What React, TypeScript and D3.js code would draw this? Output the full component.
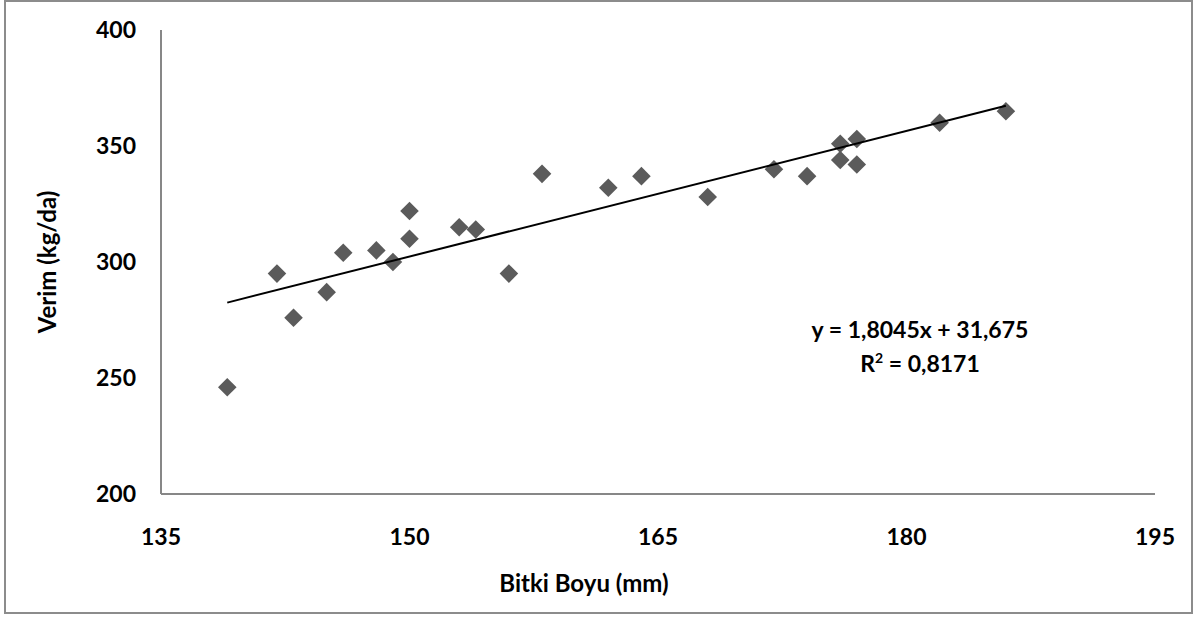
import React from "react";
import * as d3 from "d3";

const bitkiBoyu: number[] = [139, 142, 143, 145, 146, 148, 149, 150, 150, 153, 154, 156, 158, 162, 164, 168, 172, 174, 176, 176, 177, 177, 182, 186];
const verim: number[] = [246, 295, 276, 287, 304, 305, 300, 310, 322, 315, 314, 295, 338, 332, 337, 328, 340, 337, 351, 344, 353, 342, 360, 365];
const xTicks: number[] = [135, 150, 165, 180, 195];
const yTicks: number[] = [200, 250, 300, 350, 400];
const slope = 1.8045;
const intercept = 31.675;
const eqLine1 = "y = 1,8045x + 31,675";
const eqR2 = "0,8171";
const xTitle = "Bitki Boyu (mm)";
const yTitle = "Verim (kg/da)";

const W = 1196;
const H = 617;
const FONT = "Lato, 'Open Sans', sans-serif";

export default function App() {
  const x = d3.scaleLinear().domain([135, 195]).range([161, 1155]);
  const y = d3.scaleLinear().domain([200, 400]).range([494, 30]);
  const diamond = d3.symbol().type(d3.symbolDiamond2).size(220)();
  const xmin = d3.min(bitkiBoyu) as number;
  const xmax = d3.max(bitkiBoyu) as number;
  const line = d3.line<number>().x((d) => x(d)).y((d) => y(slope * d + intercept));

  return (
    <svg width={W} height={H} style={{ position: "absolute", left: 0, top: 0, background: "#fff" }} fontFamily={FONT}>
      <rect x={5} y={1} width={1187} height={612} fill="#fff" stroke="#8c8c8c" strokeWidth={2} />
      <line x1={x(135)} x2={x(135)} y1={y(400)} y2={y(200)} stroke="#878787" strokeWidth={2} />
      <line x1={x(135)} x2={x(195)} y1={y(200)} y2={y(200)} stroke="#878787" strokeWidth={2} />
      {yTicks.map((t) => (
        <text key={"y" + t} x={136} y={y(t)} dy="0.36em" textAnchor="end" fontSize={23} fontWeight="bold" fill="#000">
          {t}
        </text>
      ))}
      {xTicks.map((t) => (
        <text key={"x" + t} x={x(t)} y={545} textAnchor="middle" fontSize={23} fontWeight="bold" fill="#000">
          {t}
        </text>
      ))}
      <text x={584} y={592} textAnchor="middle" fontSize={24} fontWeight="bold" fill="#000">
        {xTitle}
      </text>
      <text transform={`translate(56,262) rotate(-90)`} textAnchor="middle" fontSize={24} fontWeight="bold" fill="#000">
        {yTitle}
      </text>
      {bitkiBoyu.map((bx, i) => (
        <path key={i} d={diamond as string} transform={`translate(${x(bx)},${y(verim[i])})`} fill="#5b5b5b" />
      ))}
      <path d={line([xmin, xmax]) as string} fill="none" stroke="#000" strokeWidth={2} />
      <text x={920} y={338} textAnchor="middle" fontSize={23} fontWeight="bold" fill="#000">
        {eqLine1}
      </text>
      <text x={920} y={372} textAnchor="middle" fontSize={23} fontWeight="bold" fill="#000">
        R<tspan dy={-9} fontSize={14}>2</tspan><tspan dy={9}>{" = " + eqR2}</tspan>
      </text>
    </svg>
  );
}
